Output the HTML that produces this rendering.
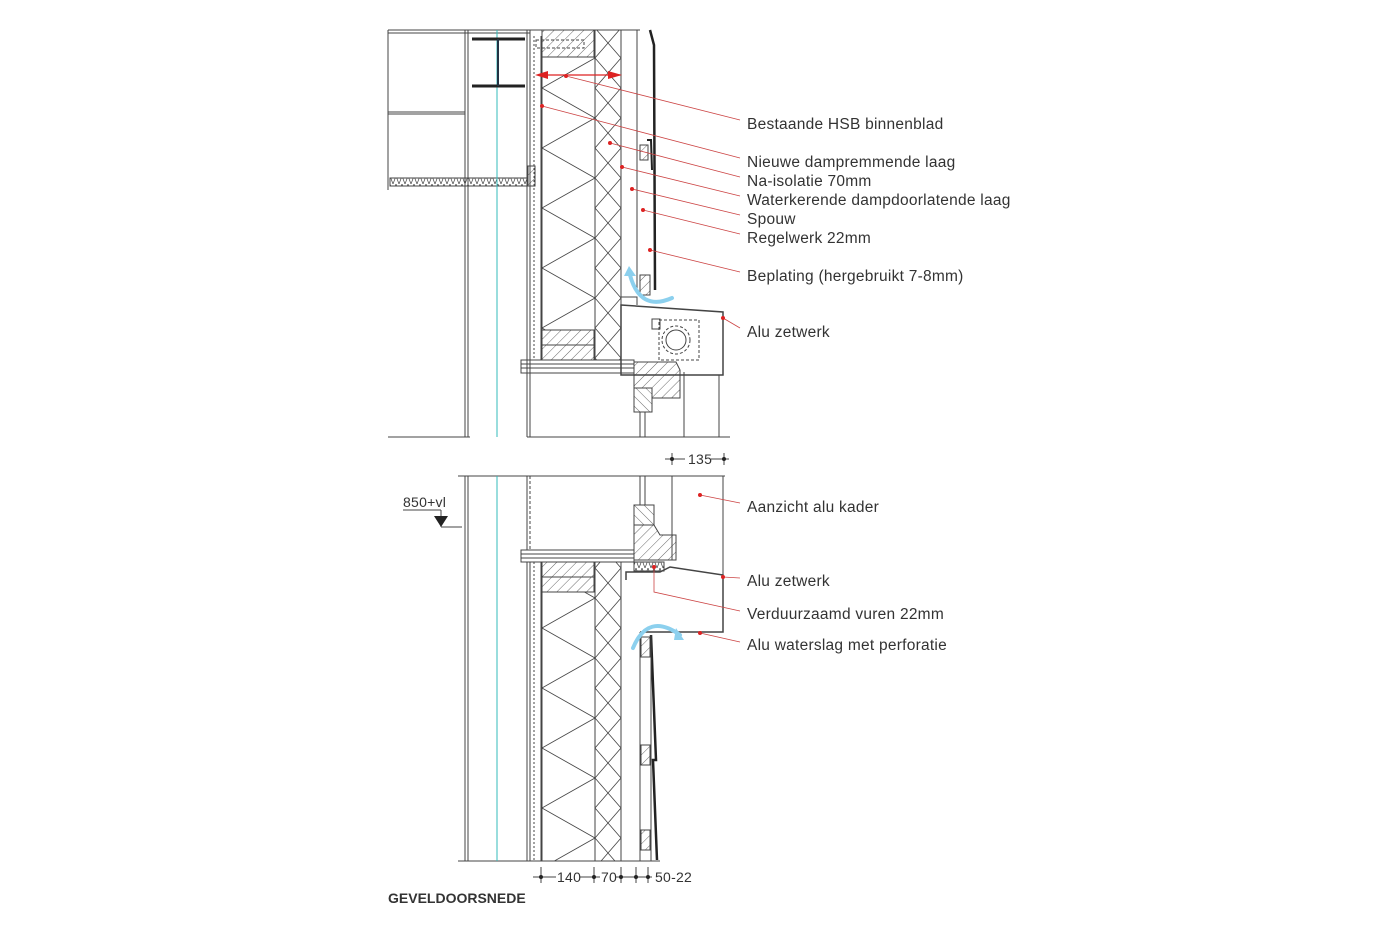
<!DOCTYPE html>
<html><head><meta charset="utf-8"><style>
html,body{margin:0;padding:0;background:#fff;}
svg{display:block}
text{font-family:"Liberation Sans",sans-serif;fill:#333;}
</style></head><body>
<svg width="1400" height="933" viewBox="0 0 1400 933" xmlns="http://www.w3.org/2000/svg">
<defs>
<pattern id="insA" patternUnits="userSpaceOnUse" x="542" y="28" width="53" height="60">
<path d="M0 0 L53 30 L0 60" stroke="#444" stroke-width="0.8" fill="none"/>
</pattern>
<pattern id="insB" patternUnits="userSpaceOnUse" x="595" y="28" width="26" height="60">
<path d="M0 0 L26 30 L0 60 M26 0 L0 30 L26 60" stroke="#444" stroke-width="0.8" fill="none"/>
</pattern>
<pattern id="hatch" patternUnits="userSpaceOnUse" width="7" height="7" patternTransform="rotate(45)">
<line x1="0" y1="0" x2="0" y2="7" stroke="#444" stroke-width="0.8"/>
</pattern>
<pattern id="hatch2" patternUnits="userSpaceOnUse" width="7" height="7" patternTransform="rotate(-45)">
<line x1="0" y1="0" x2="0" y2="7" stroke="#444" stroke-width="0.8"/>
</pattern>
<pattern id="zig" patternUnits="userSpaceOnUse" width="6" height="8">
<path d="M0 0 L3 8 L6 0" stroke="#444" stroke-width="0.7" fill="none"/>
</pattern>
</defs>
<g stroke="#444" stroke-width="1" fill="none">
<!-- TOP SECTION -->
<line x1="388" y1="30" x2="640" y2="30"/>
<line x1="388" y1="33" x2="530" y2="33"/>
<line x1="388" y1="112" x2="465" y2="112"/>
<line x1="388" y1="114" x2="465" y2="114"/>
<line x1="388" y1="30" x2="388" y2="190"/>
<rect x="390" y="178" width="138" height="8" fill="url(#zig)"/>
<rect x="528" y="166" width="7" height="20" fill="url(#hatch)"/>
<line x1="465" y1="30" x2="465" y2="437"/>
<line x1="468" y1="30" x2="468" y2="437"/>
<line x1="497" y1="30" x2="497" y2="437" stroke="#3bb" />
<line x1="472" y1="39" x2="525" y2="39" stroke="#222" stroke-width="3"/>
<line x1="472" y1="86" x2="525" y2="86" stroke="#222" stroke-width="3"/>
<line x1="498" y1="39" x2="498" y2="86" stroke="#234" stroke-width="2"/>
<line x1="527" y1="30" x2="527" y2="437"/>
<line x1="530" y1="30" x2="530" y2="437"/>
<line x1="534" y1="36" x2="534" y2="360" stroke-dasharray="2 2"/>
<line x1="541" y1="36" x2="541" y2="360"/>
<rect x="542" y="30" width="52" height="27" fill="url(#hatch)"/>
<rect x="536" y="40" width="48" height="8" stroke-dasharray="3 2"/>
<rect x="542" y="57" width="53" height="273" fill="url(#insA)"/>
<rect x="595" y="30" width="26" height="330" fill="url(#insB)"/>
<rect x="542" y="330" width="52" height="15" fill="url(#hatch)"/>
<rect x="542" y="345" width="52" height="15" fill="url(#hatch)"/>
<line x1="621" y1="30" x2="621" y2="297"/>
<line x1="637" y1="30" x2="637" y2="290"/>
<path d="M650 30 L654 45 L655 290" stroke="#222" stroke-width="2.5"/>
<path d="M647 140 L651 140 L652 170" stroke="#222" stroke-width="2"/>
<rect x="640" y="145" width="8" height="15" fill="url(#hatch)"/>
<rect x="640" y="275" width="10" height="20" fill="url(#hatch)"/>
<path d="M621 297 L637 297 L637 305"/>
<path d="M621 305 L723 312 L723 375 L621 375 Z" stroke-width="1.5"/>
<rect x="659" y="320" width="40" height="40" stroke-dasharray="3 2"/>
<circle cx="676" cy="340" r="14" stroke-dasharray="3 2"/>
<circle cx="676" cy="340" r="10"/>
<rect x="652" y="319" width="8" height="10"/>
<rect x="521" y="360" width="113" height="13"/>
<line x1="521" y1="364" x2="634" y2="364"/>
<line x1="521" y1="368" x2="634" y2="368"/>
<path d="M634 362 L676 362 L680 370 L680 398 L652 398 L652 388 L634 388 Z" fill="url(#hatch)"/>
<rect x="634" y="388" width="18" height="24" fill="url(#hatch2)"/>
<line x1="640" y1="412" x2="640" y2="437"/>
<line x1="645" y1="412" x2="645" y2="437"/>
<line x1="684" y1="372" x2="684" y2="437"/>
<line x1="719" y1="375" x2="719" y2="437"/>
<line x1="527" y1="437" x2="730" y2="437"/>
<line x1="388" y1="437" x2="470" y2="437"/>

<!-- BOTTOM SECTION -->
<line x1="458" y1="476" x2="725" y2="476"/>
<line x1="458" y1="861" x2="660" y2="861"/>
<line x1="465" y1="476" x2="465" y2="861"/>
<line x1="468" y1="476" x2="468" y2="861"/>
<line x1="497" y1="476" x2="497" y2="861" stroke="#3bb"/>
<line x1="527" y1="476" x2="527" y2="550"/>
<line x1="530" y1="476" x2="530" y2="550" stroke-dasharray="3 2"/>
<line x1="527" y1="562" x2="527" y2="861"/>
<line x1="530" y1="562" x2="530" y2="861"/>
<line x1="534" y1="562" x2="534" y2="861" stroke-dasharray="2 2"/>
<line x1="541" y1="562" x2="541" y2="861"/>
<rect x="521" y="550" width="113" height="12"/>
<line x1="521" y1="554" x2="634" y2="554"/>
<line x1="521" y1="558" x2="634" y2="558"/>
<rect x="542" y="562" width="52" height="15" fill="url(#hatch)"/>
<rect x="542" y="577" width="52" height="15" fill="url(#hatch)"/>
<rect x="542" y="592" width="53" height="269" fill="url(#insA)"/>
<rect x="595" y="562" width="26" height="299" fill="url(#insB)"/>
<line x1="621" y1="562" x2="621" y2="861"/>
<line x1="640" y1="476" x2="640" y2="505"/>
<line x1="645" y1="476" x2="645" y2="505"/>
<rect x="634" y="505" width="20" height="20" fill="url(#hatch2)"/>
<path d="M634 525 L654 525 L660 535 L676 535 L676 560 L634 560 Z" fill="url(#hatch)"/>
<line x1="672" y1="476" x2="672" y2="560"/>
<line x1="723" y1="476" x2="723" y2="575"/>
<rect x="634" y="562" width="30" height="9" fill="url(#zig)"/>
<path d="M626 580 L626 572 L660 572 L670 567 L723 575 L723 632 L640 632" stroke-width="1.5"/>
<line x1="640" y1="632" x2="640" y2="861"/>
<rect x="641" y="637" width="9" height="20" fill="url(#hatch)"/>
<rect x="641" y="745" width="9" height="20" fill="url(#hatch)"/>
<rect x="641" y="830" width="9" height="20" fill="url(#hatch)"/>
<path d="M651 635 L656 760 L653 760 L657 860" stroke="#222" stroke-width="2.5"/>
<line x1="651" y1="635" x2="651" y2="861"/>

<line x1="665" y1="459" x2="685" y2="459"/>
<line x1="711" y1="459" x2="729" y2="459"/>
<line x1="672" y1="453" x2="672" y2="465"/>
<line x1="724" y1="453" x2="724" y2="465"/>
<line x1="533" y1="877" x2="556" y2="877"/>
<line x1="580" y1="877" x2="600" y2="877"/>
<line x1="616" y1="877" x2="652" y2="877"/>
<line x1="541" y1="867" x2="541" y2="883"/>
<line x1="594" y1="867" x2="594" y2="883"/>
<line x1="621" y1="867" x2="621" y2="883"/>
<line x1="636" y1="867" x2="636" y2="883"/>
<line x1="648" y1="867" x2="648" y2="883"/>
<line x1="403" y1="510" x2="441" y2="510"/>
<line x1="441" y1="510" x2="441" y2="527"/>
<line x1="441" y1="527" x2="462" y2="527"/>
</g>
<polygon points="434,516 448,516 441,527" fill="#222"/>
<g fill="#222">
<circle cx="541" cy="877" r="2"/><circle cx="594" cy="877" r="2"/><circle cx="621" cy="877" r="2"/><circle cx="636" cy="877" r="2"/><circle cx="648" cy="877" r="2"/>
<circle cx="672" cy="459" r="2"/><circle cx="724" cy="459" r="2"/>
</g>
<g stroke="#c44" stroke-width="0.8" fill="none">
<line x1="566" y1="76" x2="740" y2="120"/>
<line x1="542" y1="106" x2="740" y2="158"/>
<line x1="610" y1="143" x2="740" y2="177"/>
<line x1="622" y1="167" x2="740" y2="196"/>
<line x1="632" y1="189" x2="740" y2="215"/>
<line x1="643" y1="210" x2="740" y2="234"/>
<line x1="650" y1="250" x2="740" y2="272"/>
<line x1="723" y1="318" x2="740" y2="328"/>
<line x1="700" y1="495" x2="740" y2="503"/>
<line x1="723" y1="577" x2="740" y2="578"/>
<path d="M654 567 L654 592 L740 611"/>
<line x1="700" y1="633" x2="740" y2="642"/>
<line x1="540" y1="75" x2="620" y2="75" stroke="#d22" stroke-width="1.2"/>
</g>
<g fill="#d22">
<polygon points="535,75 548,71 548,79"/>
<polygon points="622,75 608,71 608,79"/>
<circle cx="566" cy="76" r="2"/><circle cx="542" cy="106" r="2"/><circle cx="610" cy="143" r="2"/><circle cx="622" cy="167" r="2"/><circle cx="632" cy="189" r="2"/><circle cx="643" cy="210" r="2"/><circle cx="650" cy="250" r="2"/><circle cx="723" cy="318" r="2"/><circle cx="700" cy="495" r="2"/><circle cx="723" cy="577" r="2"/><circle cx="654" cy="567" r="2"/><circle cx="700" cy="633" r="2"/>
</g>
<g stroke="#8cd0ee" stroke-width="4" fill="none" stroke-linecap="round">
<path d="M672 298 Q640 312 630 275"/>
<path d="M633 648 Q648 612 680 635"/>
</g>
<polygon points="624,276 636,276 629,266" fill="#8cd0ee"/>
<polygon points="676,628 684,640 674,640" fill="#8cd0ee"/>
<g font-size="15.5" letter-spacing="0.25">
<text x="747" y="129">Bestaande HSB binnenblad</text>
<text x="747" y="167">Nieuwe dampremmende laag</text>
<text x="747" y="186">Na-isolatie 70mm</text>
<text x="747" y="205">Waterkerende dampdoorlatende laag</text>
<text x="747" y="224">Spouw</text>
<text x="747" y="243">Regelwerk 22mm</text>
<text x="747" y="281">Beplating (hergebruikt 7-8mm)</text>
<text x="747" y="337">Alu zetwerk</text>
<text x="747" y="512">Aanzicht alu kader</text>
<text x="747" y="586">Alu zetwerk</text>
<text x="747" y="619">Verduurzaamd vuren 22mm</text>
<text x="747" y="650">Alu waterslag met perforatie</text>
<text x="688" y="464" font-size="14">135</text>
<text x="557" y="882" font-size="14">140</text>
<text x="601" y="882" font-size="14">70</text>
<text x="655" y="882" font-size="14">50-22</text>
<text x="403" y="507" font-size="14">850+vl</text>
<text x="388" y="903" font-size="14" font-weight="bold" fill="#222" letter-spacing="0">GEVELDOORSNEDE</text>
</g>
</svg>
</body></html>
